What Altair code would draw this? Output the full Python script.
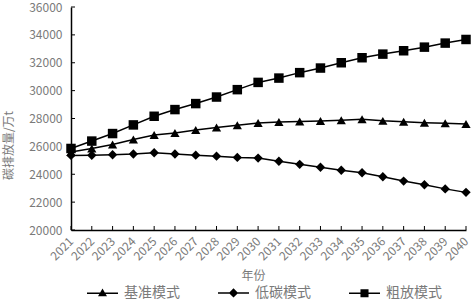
import altair as alt
import pandas as pd

years = ["2021", "2022", "2023", "2024", "2025", "2026", "2027", "2028", "2029", "2030",
         "2031", "2032", "2033", "2034", "2035", "2036", "2037", "2038", "2039", "2040"]
series_names = ["基准模式", "低碳模式", "粗放模式"]
base = [25600, 25850, 26130, 26490, 26820, 26960, 27180, 27350, 27520, 27680,
        27750, 27780, 27820, 27870, 27940, 27830, 27760, 27700, 27660, 27610]
low = [25350, 25360, 25400, 25450, 25540, 25450, 25370, 25300, 25210, 25160,
       24930, 24710, 24500, 24290, 24110, 23820, 23510, 23250, 22950, 22700]
ext = [25850, 26380, 26920, 27540, 28160, 28640, 29070, 29540, 30070, 30590,
       30900, 31290, 31620, 32000, 32360, 32620, 32860, 33120, 33410, 33670]
y_ticks = [20000, 22000, 24000, 26000, 28000, 30000, 32000, 34000, 36000]

rows = []
for name, vals in zip(series_names, [base, low, ext]):
    for yr, v in zip(years, vals):
        rows.append({"年份": yr, "排放": v, "模式": name})
df = pd.DataFrame(rows)
tick_df = pd.DataFrame({"t": y_ticks})
year_df = pd.DataFrame({"年份": years})

W, H = 395, 223
FONT = "Noto Sans CJK SC"
GRAY = "#7a7a7a"

xs = alt.Scale(type="point", padding=0, domain=years)
ys = alt.Scale(domain=[20000, 36000], nice=False, zero=False)

x_axis = alt.Axis(
    title="年份", labelAngle=-45, labelAlign="right", labelBaseline="middle",
    labelPadding=9, ticks=False, tickSize=0, domainColor="black", domainWidth=1.5,
    labelColor=GRAY, labelFontSize=12, labelFont=FONT, labelOverlap=False,
    titleColor=GRAY, titleFontSize=12, titleFont=FONT, titleFontWeight="normal",
    titleX=182, titleY=45, titleBaseline="middle", titleAnchor="start", titleAlign="center")
y_axis = alt.Axis(
    title="碳排放量/万t", values=y_ticks, format="d", labelOverlap=False,
    grid=False, ticks=False, tickSize=0,
    labelPadding=9, domainColor="black", domainWidth=1.5,
    labelColor=GRAY, labelFontSize=12, labelFont=FONT,
    titleColor=GRAY, titleFontSize=12, titleFont=FONT, titleFontWeight="normal",
    titleX=-56, titleY=138, titleAngle=270, titleAlign="center", titleBaseline="bottom")

x_enc = alt.X("年份:O", scale=xs, axis=x_axis)
y_enc = alt.Y("排放:Q", scale=ys, axis=y_axis)

lines = alt.Chart(df).mark_line(color="black", strokeWidth=1.5).encode(
    x=x_enc, y=y_enc, detail="模式:N")

points = alt.Chart(df).mark_point(filled=True, color="black", opacity=1).encode(
    x=x_enc, y=y_enc,
    shape=alt.Shape("模式:N", scale=alt.Scale(domain=series_names,
                    range=["triangle-up", "diamond", "square"]), legend=None),
    size=alt.Size("模式:N", scale=alt.Scale(domain=series_names, range=[85, 90, 70]), legend=None),
)

y_tick_rules = alt.Chart(tick_df).mark_rule(color="black", strokeWidth=1).encode(
    y=alt.Y("t:Q", scale=ys, axis=y_axis), x=alt.value(0), x2=alt.value(4))
x_tick_rules = alt.Chart(year_df).mark_rule(color="black", strokeWidth=1).encode(
    x=x_enc, y=alt.value(H), y2=alt.value(H - 4))

LINE = "M-1,-0.05H1V0.05H-1Z"
leg_paths = [
    LINE + "M0,-0.3L0.29,0.2L-0.29,0.2Z",
    LINE + "M0,-0.3L0.3,0L0,0.3L-0.3,0Z",
    LINE + "M-0.26,-0.26H0.26V0.26H-0.26Z",
]
legend_layer = alt.Chart(df).transform_filter("false").mark_point(
    filled=True, color="black", opacity=1).encode(
    shape=alt.Shape("模式:N", scale=alt.Scale(domain=series_names, range=leg_paths),
                    legend=alt.Legend(
                        title=None, orient="none", direction="horizontal",
                        legendX=15, legendY=269, symbolSize=961,
                        symbolFillColor="black", symbolOpacity=1,
                        labelFont=FONT, labelFontSize=14, labelColor=GRAY,
                        labelOffset=5, columnPadding=35, padding=0)),
)

chart = alt.layer(lines, y_tick_rules, x_tick_rules, points, legend_layer).resolve_scale(
    shape="independent", size="independent"
).properties(
    width=W, height=H,
    padding={"left": 71, "top": 7, "right": 6, "bottom": 71},
    autosize=alt.AutoSizeParams(type="none"),
).configure_view(stroke=None)

chart.save("out.html", embed_options={"renderer": "svg", "actions": False})
